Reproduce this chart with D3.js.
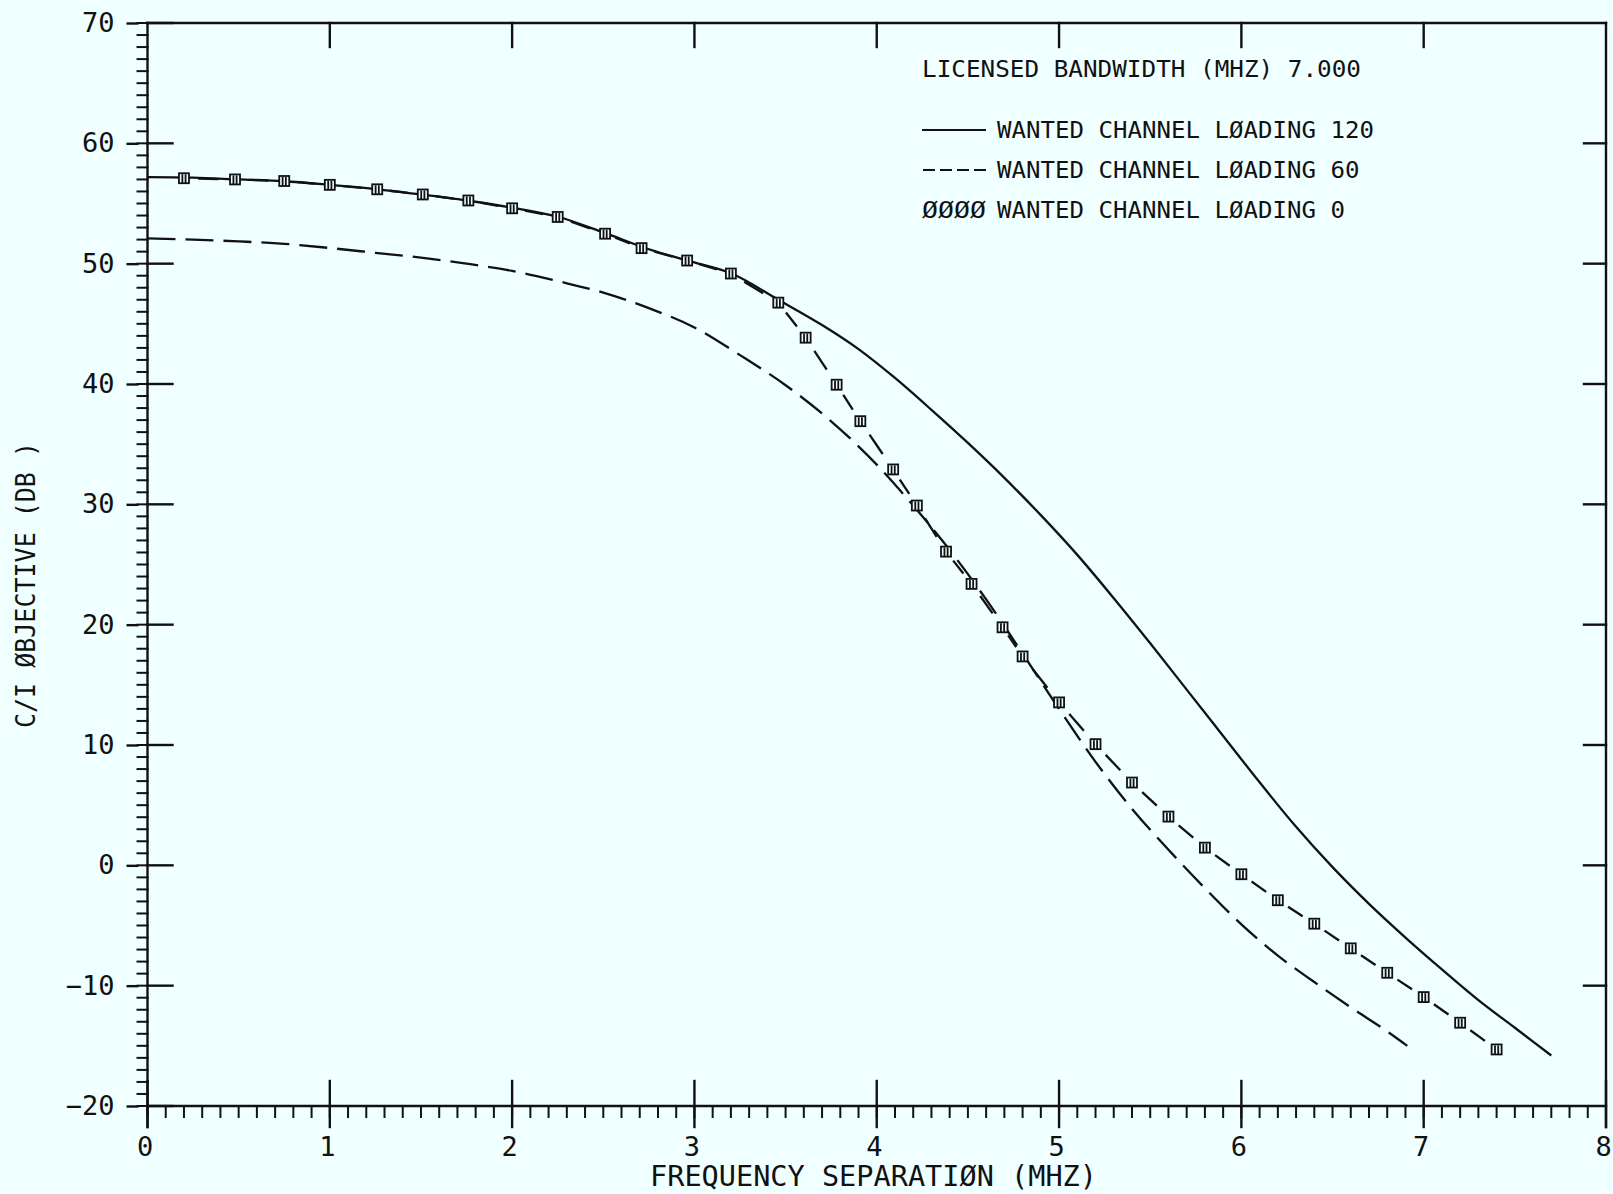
<!DOCTYPE html>
<html>
<head>
<meta charset="utf-8">
<script src="https://cdn.jsdelivr.net/npm/d3@7"></script>
<style>
  html, body { margin: 0; padding: 0; background: #f0ffff; }
  svg { display: block; }
  text { font-family: "DejaVu Sans Mono", monospace; fill: #111; }
</style>
</head>
<body>
<svg id="chart" width="1613" height="1194"></svg>
<script>
// Tick labels
const xTicks = [0, 1, 2, 3, 4, 5, 6, 7, 8];
const yTicks = [70, 60, 50, 40, 30, 20, 10, 0, -10, -20];

// Wanted channel loading 120 (solid)
const load120X = [0, 0.25, 0.5, 0.75, 1.0, 1.25, 1.5, 1.75, 2.0, 2.25, 2.5, 2.75, 3.0, 3.2, 3.46, 3.7, 3.9, 4.1, 4.3, 4.5, 4.7, 4.9, 5.1, 5.3, 5.5, 5.7, 5.9, 6.1, 6.3, 6.5, 6.7, 6.9, 7.1, 7.3, 7.5, 7.7];
const load120Y = [57.2, 57.15, 57.0, 56.85, 56.55, 56.2, 55.75, 55.25, 54.65, 53.9, 52.6, 51.2, 50.1, 49.2, 47.0, 44.9, 42.9, 40.5, 37.85, 35.1, 32.2, 29.1, 25.8, 22.2, 18.45, 14.6, 10.75, 6.9, 3.2, -0.15, -3.2, -6.0, -8.65, -11.2, -13.5, -15.8];

// Wanted channel loading 60 (long dashes)
const load60X = [0, 0.25, 0.5, 0.75, 1.0, 1.25, 1.5, 1.75, 2.0, 2.25, 2.5, 2.75, 3.0, 3.25, 3.5, 3.75, 4.0, 4.2, 4.4, 4.6, 4.8, 5.0, 5.2, 5.4, 5.6, 5.8, 6.0, 6.2, 6.4, 6.6, 6.8, 6.91];
const load60Y = [52.1, 52.0, 51.85, 51.65, 51.3, 50.9, 50.5, 50.0, 49.4, 48.55, 47.6, 46.3, 44.7, 42.4, 39.9, 36.9, 33.3, 29.9, 26.2, 22.1, 17.6, 13.0, 8.6, 4.7, 1.3, -1.9, -4.9, -7.5, -9.7, -11.8, -13.8, -15.0];

// Wanted channel loading 0 (plotted symbols)
const load0X = [0.2, 0.48, 0.75, 1.0, 1.26, 1.51, 1.76, 2.0, 2.25, 2.51, 2.71, 2.96, 3.2, 3.46, 3.61, 3.78, 3.91, 4.09, 4.22, 4.38, 4.52, 4.69, 4.80, 5.0, 5.2, 5.4, 5.6, 5.8, 6.0, 6.2, 6.4, 6.6, 6.8, 7.0, 7.2, 7.4];
const load0Y = [57.1, 57.0, 56.87, 56.55, 56.18, 55.75, 55.25, 54.6, 53.88, 52.49, 51.29, 50.26, 49.18, 46.76, 43.85, 39.94, 36.91, 32.9, 29.9, 26.07, 23.39, 19.78, 17.36, 13.54, 10.07, 6.88, 4.05, 1.47, -0.74, -2.9, -4.85, -6.9, -8.93, -10.95, -13.08, -15.3];

const legendRows = [
  "WANTED CHANNEL L\u00D8ADING 120",
  "WANTED CHANNEL L\u00D8ADING 60",
  "WANTED CHANNEL L\u00D8ADING 0"
];

const INK = "#111";
const BG = "#f0ffff";

const svg = d3.select("#chart");
const x = d3.scaleLinear().domain([0, 8]).range([147.5, 1606]);
const y = d3.scaleLinear().domain([-20, 70]).range([1106, 23]);
const [x0, x1] = x.range();
const [yb, yt] = y.range();

const axes = svg.append("g").attr("stroke", INK).attr("stroke-width", 2.4).attr("stroke-linecap", "square");

// frame
axes.append("line").attr("x1", x0).attr("x2", x1).attr("y1", yt).attr("y2", yt);
axes.append("line").attr("x1", x0).attr("x2", x1).attr("y1", yb).attr("y2", yb);
axes.append("line").attr("x1", x0).attr("x2", x0).attr("y1", yt).attr("y2", yb + 21);
axes.append("line").attr("x1", x1).attr("x2", x1).attr("y1", yt).attr("y2", yb + 21);

// left minor ticks every 1 dB (outside)
const yMinor = d3.range(-20, 70.001, 1);
axes.selectAll(".ymin").data(yMinor).join("line")
  .attr("stroke-width", 2)
  .attr("x1", x0 - 10).attr("x2", x0).attr("y1", d => y(d)).attr("y2", d => y(d));

// bottom minor ticks every 0.1 MHz (outside)
const xMinor = d3.range(0, 8.0001, 0.1);
axes.selectAll(".xmin").data(xMinor).join("line")
  .attr("stroke-width", 2)
  .attr("x1", d => x(d)).attr("x2", d => x(d)).attr("y1", yb).attr("y2", yb + 11);

// major tick marks reaching into the plot
axes.selectAll(".yin").data(yTicks).join("line")
  .attr("x1", x0).attr("x2", x0 + 25).attr("y1", d => y(d)).attr("y2", d => y(d));
axes.selectAll(".yright").data(yTicks.filter(d => d !== 70 && d !== -20)).join("line")
  .attr("x1", x1 - 22).attr("x2", x1).attr("y1", d => y(d)).attr("y2", d => y(d));
axes.selectAll(".xin").data(xTicks).join("line")
  .attr("x1", d => x(d)).attr("x2", d => x(d)).attr("y1", yb - 25).attr("y2", yb + 21);
axes.selectAll(".xtop").data(xTicks.filter(d => d > 0 && d < 8)).join("line")
  .attr("x1", d => x(d)).attr("x2", d => x(d)).attr("y1", yt).attr("y2", yt + 24);

// y axis with labels and outer major ticks
const gy = svg.append("g").attr("transform", `translate(${x0},0)`)
  .call(d3.axisLeft(y).tickValues(yTicks).tickSizeInner(21).tickSizeOuter(0).tickPadding(12).tickFormat(d3.format("d")));
gy.select(".domain").remove();
gy.selectAll(".tick line").attr("x1", -9).attr("stroke", INK).attr("stroke-width", 2.4);
gy.selectAll(".tick text").attr("font-family", "DejaVu Sans Mono").attr("font-size", 27).attr("fill", INK);

// x axis labels
const gx = svg.append("g").attr("transform", `translate(0,${yb})`)
  .call(d3.axisBottom(x).tickValues(xTicks).tickSizeInner(22).tickSizeOuter(0).tickPadding(9).tickFormat(d3.format("d")));
gx.select(".domain").remove();
gx.selectAll(".tick line").remove();
gx.selectAll(".tick text").attr("font-family", "DejaVu Sans Mono").attr("font-size", 27).attr("fill", INK).attr("dx", -3);

// axis titles
svg.append("text")
  .attr("x", 650).attr("y", 1186)
  .attr("font-size", 28)
  .attr("textLength", 447).attr("lengthAdjust", "spacingAndGlyphs")
  .text("FREQUENCY SEPARATI\u00D8N (MHZ)");

svg.append("text")
  .attr("transform", "translate(35,728) rotate(-90)")
  .attr("font-size", 27)
  .attr("textLength", 286).attr("lengthAdjust", "spacingAndGlyphs")
  .text("C/I \u00D8BJECTIVE (DB )");

// curves
const toPts = (xs, ys) => xs.map((v, i) => [v, ys[i]]);
const line = d3.line().x(d => x(d[0])).y(d => y(d[1])).curve(d3.curveMonotoneX);

const curves = svg.append("g").attr("fill", "none").attr("stroke", INK).attr("stroke-width", 2.3)
  .attr("stroke-linejoin", "round");

curves.append("path").attr("d", line(toPts(load120X, load120Y)));
curves.append("path").attr("d", line(toPts(load60X, load60Y))).attr("stroke-dasharray", "28,10");

// loading 0: one short dash between consecutive symbols
const p0 = toPts(load0X, load0Y);
const pairs = d3.pairs(p0);
curves.selectAll(".seg").data(pairs).join("line")
  .attr("x1", ([a, b]) => x(a[0]) + (x(b[0]) - x(a[0])) * 0.28)
  .attr("y1", ([a, b]) => y(a[1]) + (y(b[1]) - y(a[1])) * 0.28)
  .attr("x2", ([a, b]) => x(a[0]) + (x(b[0]) - x(a[0])) * 0.68)
  .attr("y2", ([a, b]) => y(a[1]) + (y(b[1]) - y(a[1])) * 0.68);

const sym = svg.append("g").attr("stroke", INK).attr("stroke-width", 1.8).attr("fill", BG);
const mk = sym.selectAll("g").data(p0).join("g")
  .attr("transform", d => `translate(${x(d[0])},${y(d[1])})`);
mk.append("rect").attr("x", -5).attr("y", -5).attr("width", 10).attr("height", 10);
mk.append("line").attr("x1", -1.6).attr("x2", -1.6).attr("y1", -4).attr("y2", 5);
mk.append("line").attr("x1", 1.6).attr("x2", 1.6).attr("y1", -4).attr("y2", 5);

// legend block
const lg = svg.append("g");
lg.append("text").attr("x", 922).attr("y", 77).attr("font-size", 23)
  .attr("textLength", 439).attr("lengthAdjust", "spacingAndGlyphs")
  .text("LICENSED BANDWIDTH (MHZ) 7.000");

const rowY = [138, 178, 218];
lg.append("line").attr("x1", 922).attr("x2", 986).attr("y1", rowY[0] - 8).attr("y2", rowY[0] - 8)
  .attr("stroke", INK).attr("stroke-width", 2.2);
lg.append("line").attr("x1", 923).attr("x2", 987).attr("y1", rowY[1] - 8).attr("y2", rowY[1] - 8)
  .attr("stroke", INK).attr("stroke-width", 2.2).attr("stroke-dasharray", "12,5");
lg.append("text").attr("x", 922).attr("y", rowY[2]).attr("font-size", 23)
  .attr("textLength", 64).attr("lengthAdjust", "spacingAndGlyphs")
  .text("\u00D8\u00D8\u00D8\u00D8");

lg.selectAll(".row").data(legendRows).join("text")
  .attr("x", 997).attr("y", (d, i) => rowY[i]).attr("font-size", 23)
  .attr("textLength", d => d.length * 14.5).attr("lengthAdjust", "spacingAndGlyphs")
  .text(d => d);
</script>
</body>
</html>
